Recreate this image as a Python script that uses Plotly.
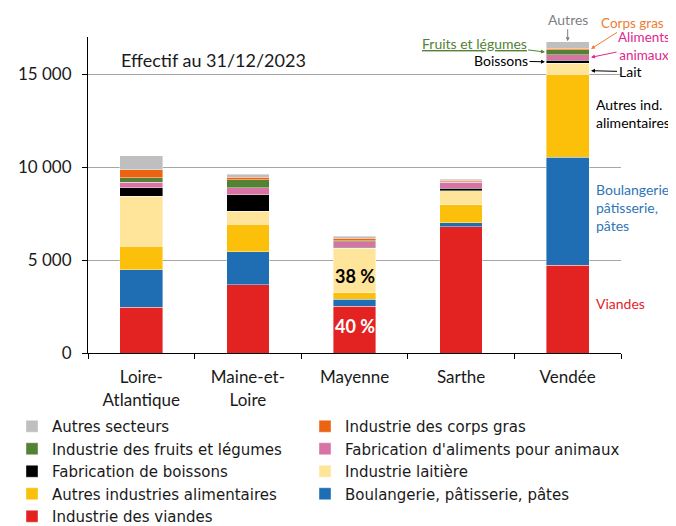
import plotly.graph_objects as go

departements = ["Loire-<br>Atlantique", "Maine-et-<br>Loire", "Mayenne", "Sarthe", "Vendée"]

# stacking order, bottom to top
series_names = [
    "Industrie des viandes",
    "Boulangerie, pâtisserie, pâtes",
    "Autres industries alimentaires",
    "Industrie laitière",
    "Fabrication de boissons",
    "Fabrication d'aliments pour animaux",
    "Industrie des fruits et légumes",
    "Industrie des corps gras",
    "Autres secteurs",
]
viandes      = [2460, 3660, 2520, 6790, 4710]
boulangerie  = [2020, 1790,  380,  215, 5810]
autres_ind   = [1270, 1490,  330,  970, 4480]
laitiere     = [2690,  680, 2400,  750,  575]
boissons     = [ 450,  900,   70,  145,  180]
aliments     = [ 300,  375,  290,  320,  300]
fruits       = [ 230,  430,   50,   35,  270]
corps_gras   = [ 430,  125,  130,   35,   70]
autres       = [ 750,  180,  120,   90,  340]
series_values = [viandes, boulangerie, autres_ind, laitiere, boissons,
                 aliments, fruits, corps_gras, autres]
colors = ["#E32322", "#1F6EB4", "#FCBF0A", "#FFE599", "#000000",
          "#D873A6", "#548235", "#EC6412", "#BFBFBF"]
# which legend column each series goes to
legend_col = ["legend", "legend2", "legend", "legend2", "legend",
              "legend2", "legend", "legend2", "legend"]

y_tickvals = [0, 5000, 10000, 15000]
y_ticktext = ["0", "5 000", "10 000", "15 000"]

FONT = "Lato"
TXT = "#1a1a1a"

fig = go.Figure()
for name, vals, col, lg in zip(series_names, series_values, colors, legend_col):
    fig.add_trace(go.Bar(
        name=name, x=departements, y=vals, legend=lg,
        marker=dict(color=col, line=dict(color="rgba(255,255,255,0.5)", width=0.8)),
        width=0.4, hoverinfo="name+y",
    ))

# cumulative helpers for annotation anchors (Vendée)
ven = [v[4] for v in series_values]
cum = []
s = 0
for v in ven:
    s += v
    cum.append(s)
mid = [c - v / 2 for c, v in zip(cum, ven)]
may_cum = []
s = 0
for v in series_values:
    s += v[2]
    may_cum.append(s)

def paper_x(px):
    return (px - 88) / 533

annotations = [
    dict(text="Effectif au 31/12/2023", xref="paper", yref="y", x=paper_x(119), y=15770,
         xanchor="left", yanchor="middle", showarrow=False, font=dict(size=18, color=TXT)),
    # Mayenne shares
    dict(text="<b>38 %</b>", x="Mayenne", y=may_cum[3] - laitiere[2] * 0.5 - 270,
         showarrow=False, font=dict(size=18, color="#000000")),
    dict(text="<b>40 %</b>", x="Mayenne", y=viandes[2] * 0.55 + 60, showarrow=False,
         font=dict(size=18, color="#ffffff")),
    # Vendée labels
    dict(text="Autres", x="Vendée", y=cum[8] + 40, ax=0, ay=-22, showarrow=True,
         arrowhead=2, arrowsize=0.8, arrowwidth=1, arrowcolor="#7F7F7F",
         font=dict(size=14, color="#7F7F7F")),
    dict(text="Corps gras", xref="paper", x=paper_x(591), y=mid[7], ax=41, ay=-26, showarrow=True,
         arrowhead=2, arrowsize=0.8, arrowwidth=1, arrowcolor="#ED7D31",
         font=dict(size=13.5, color="#ED7D31")),
    dict(text="Aliments<br>animaux", xref="paper", x=paper_x(591), y=mid[5], ax=53, ay=-11, showarrow=True,
         arrowhead=2, arrowsize=0.8, arrowwidth=1, arrowcolor="#E0288C",
         font=dict(size=13.5, color="#E0288C")),
    dict(text="<u>Fruits et légumes</u>", xref="paper", x=paper_x(545), y=mid[6], ax=-71, ay=-9, showarrow=True,
         arrowhead=2, arrowsize=0.8, arrowwidth=1, arrowcolor="#548235",
         font=dict(size=14, color="#548235")),
    dict(text="Boissons", xref="paper", x=paper_x(545), y=mid[4], ax=-44, ay=-1, showarrow=True,
         arrowhead=2, arrowsize=0.8, arrowwidth=1, arrowcolor="#000000",
         font=dict(size=14, color="#000000")),
    dict(text="Lait", xref="paper", x=paper_x(591), y=mid[3] - 100, ax=39, ay=1, showarrow=True,
         arrowhead=2, arrowsize=0.8, arrowwidth=1, arrowcolor="#000000",
         font=dict(size=14, color="#000000")),
    dict(text="Autres ind.<br>alimentaires", xref="paper", x=paper_x(594), y=mid[2] + 120,
         xanchor="left", showarrow=False, align="left", font=dict(size=14, color="#000000")),
    dict(text="Boulangerie,<br>pâtisserie,<br>pâtes", xref="paper", x=paper_x(594), y=mid[1] + 230,
         xanchor="left", showarrow=False, align="left", font=dict(size=14, color="#2E75B6")),
    dict(text="Viandes", xref="paper", x=paper_x(594), y=2680,
         xanchor="left", showarrow=False, align="left", font=dict(size=14, color="#E3232A")),
]

legend_common = dict(
    orientation="h", traceorder="reversed",
    xref="container", yref="container",
    y=1 - 402 / 526, xanchor="left", yanchor="top",
    entrywidth=400, entrywidthmode="pixels",
    font=dict(size=15, color=TXT, family="DejaVu Sans"), itemclick=False,
    bgcolor="rgba(0,0,0,0)",
)

fig.update_layout(
    width=676, height=526,
    barmode="stack",
    paper_bgcolor="white", plot_bgcolor="white",
    margin=dict(l=80, r=63, t=29, b=181, autoexpand=False),
    font=dict(family=FONT, color=TXT, size=15),
    showlegend=True,
    legend=dict(x=4 / 676, **legend_common),
    legend2=dict(x=297 / 676, **legend_common),
    xaxis=dict(
        showline=True, linecolor="#000000", linewidth=1,
        ticks="outside", tickson="boundaries", ticklen=5, tickcolor="#000000",
        tickfont=dict(size=17, color=TXT), showgrid=False, ticklabelstandoff=9,
    ),
    yaxis=dict(
        range=[0, 17000], tickvals=y_tickvals, ticktext=y_ticktext,
        showline=True, linecolor="#000000", linewidth=1,
        ticks="outside", ticklen=5, tickcolor="#000000",
        tickfont=dict(size=17, color=TXT), ticklabelstandoff=7,
        showgrid=True, gridcolor="#A6A6A6", gridwidth=1, zeroline=False,
    ),
    annotations=annotations,
)

fig.write_html("out.html")
